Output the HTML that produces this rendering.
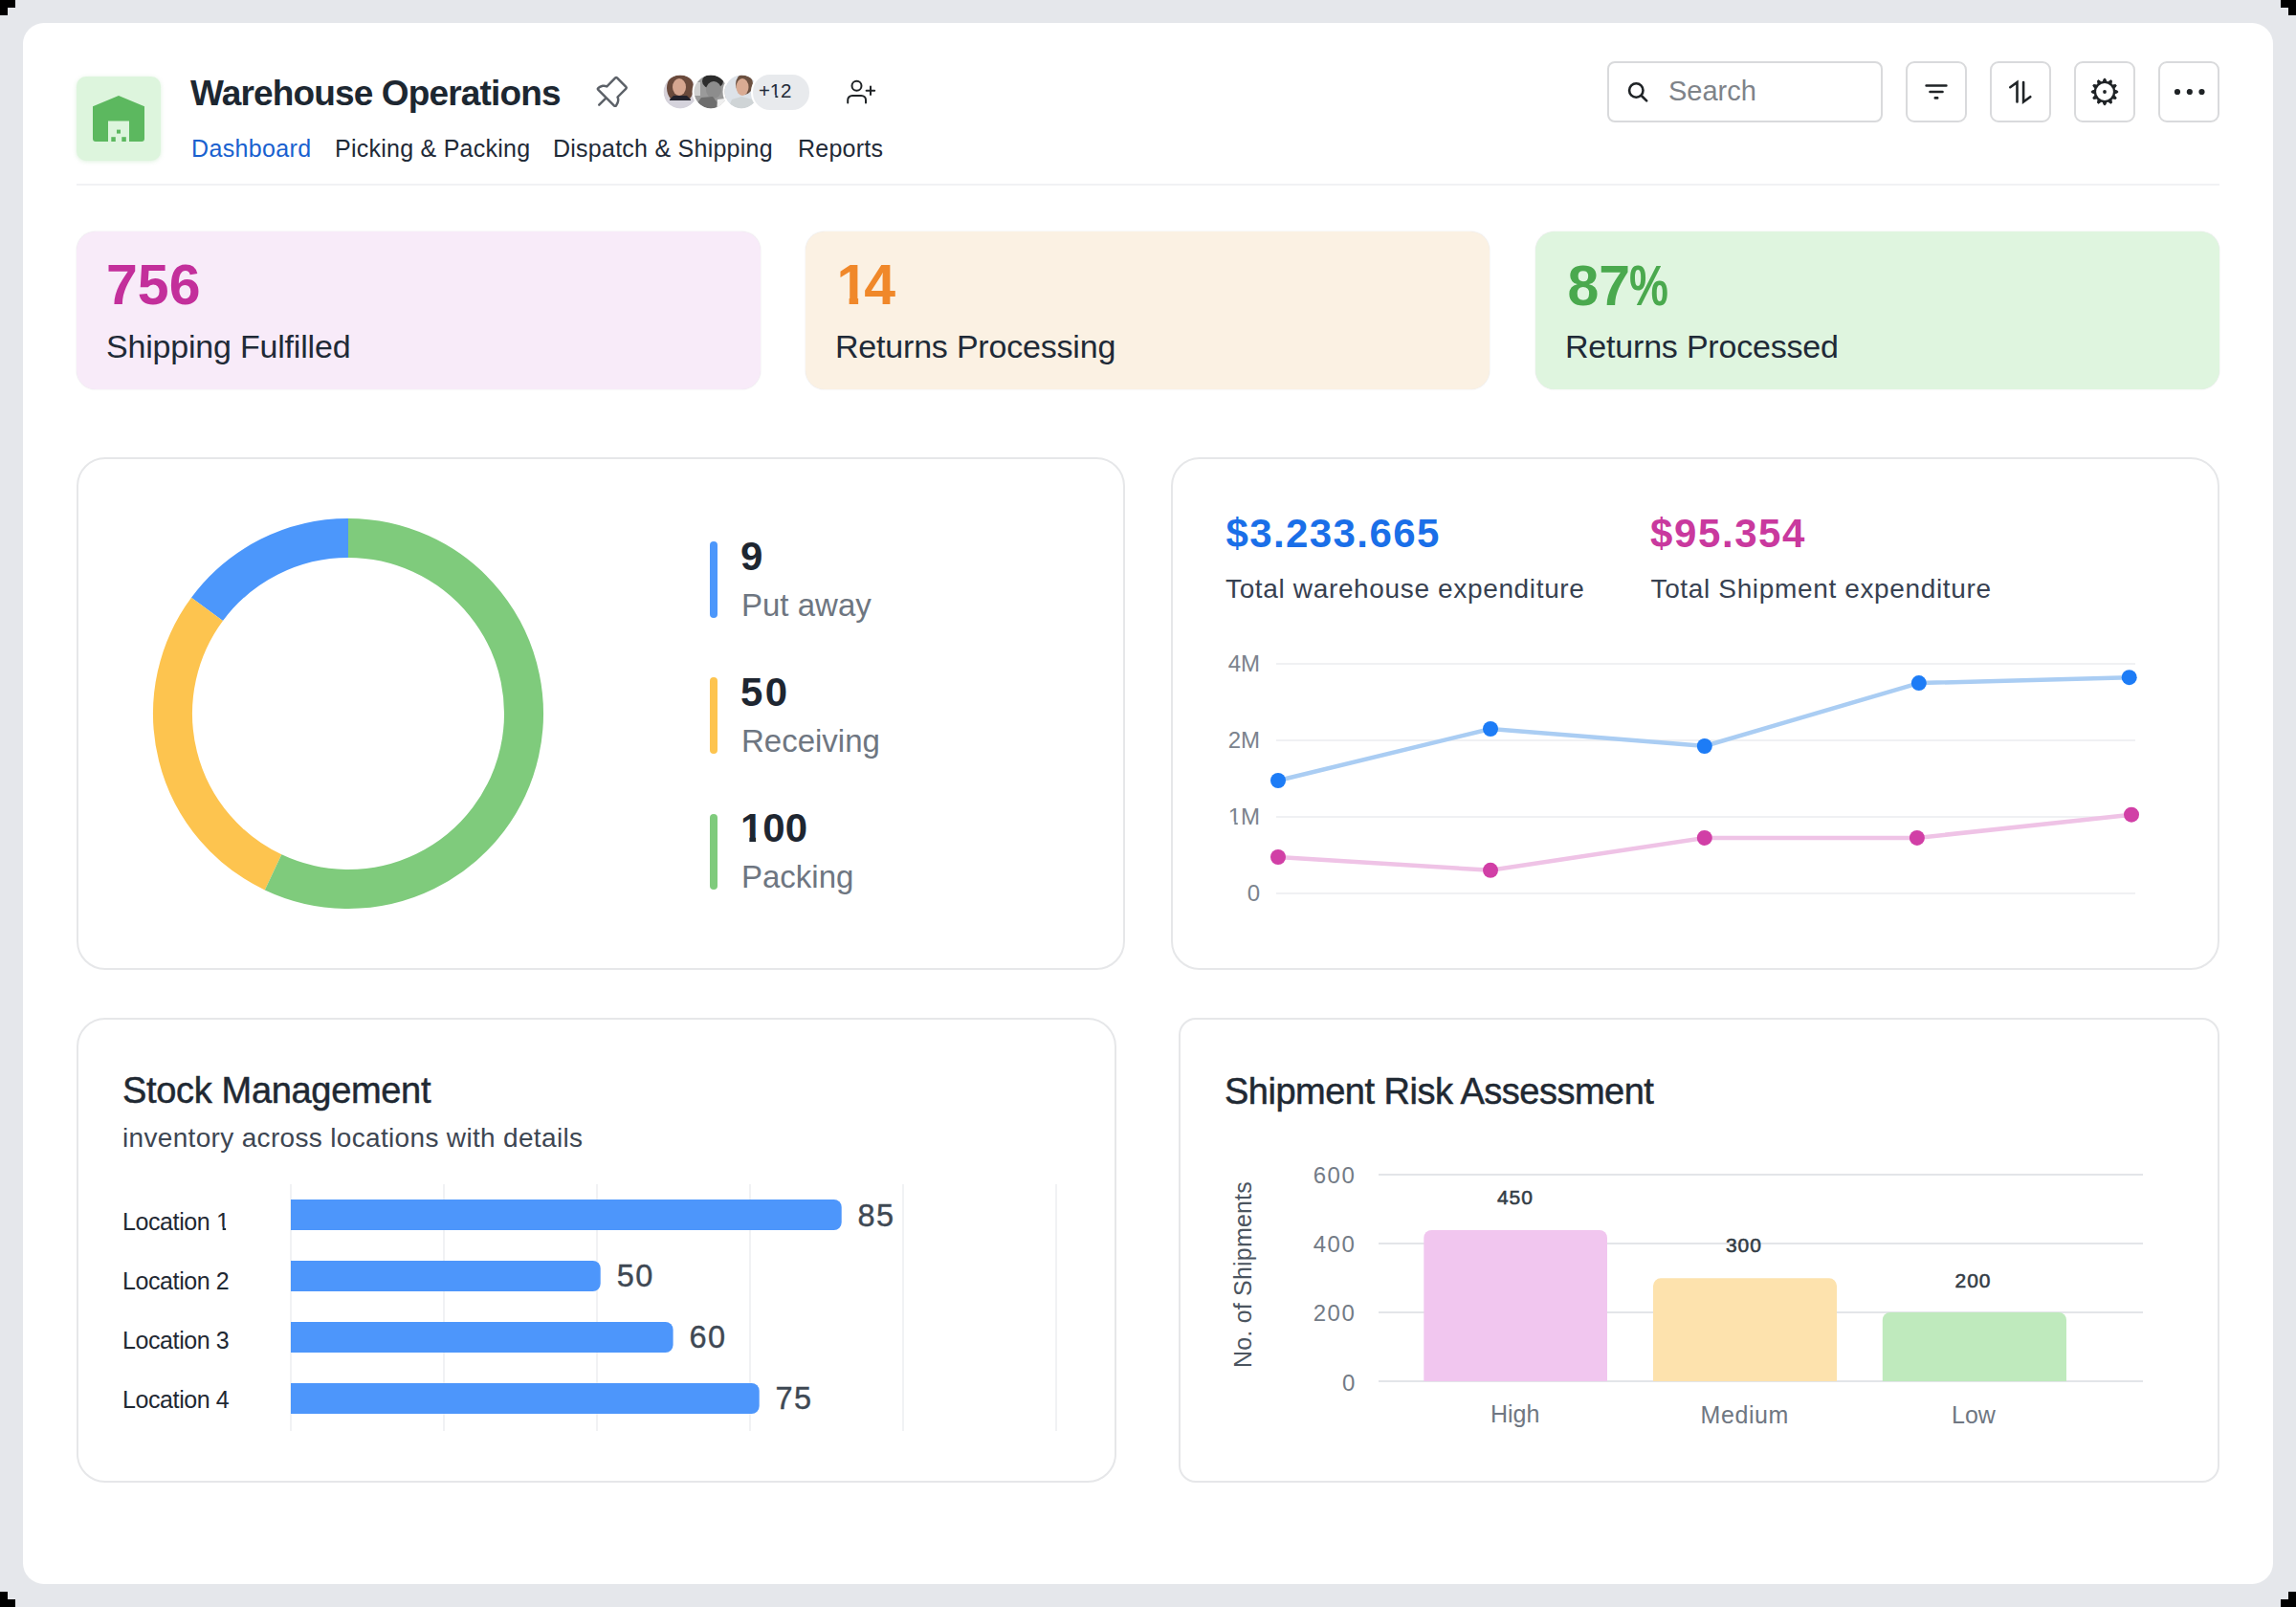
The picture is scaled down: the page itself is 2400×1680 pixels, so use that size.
<!DOCTYPE html>
<html>
<head>
<meta charset="utf-8">
<style>
*{box-sizing:border-box;margin:0;padding:0}
html,body{width:2400px;height:1680px;overflow:hidden}
body{background:#e5e7eb;font-family:"Liberation Sans",sans-serif;color:#1f2937;position:relative}
.abs{position:absolute}
.corner{position:absolute;background:#000}
#page{position:absolute;left:24px;top:24px;width:2352px;height:1632px;background:#fff;border-radius:22px}
.t{position:absolute;white-space:nowrap;line-height:1}
.kpi{position:absolute;top:242px;height:165px;width:715px;border-radius:20px;box-shadow:0 0 1.5px rgba(60,60,80,0.18)}
.card{position:absolute;background:#fff;border:2px solid #e6e7e9;border-radius:30px}
.btn{position:absolute;top:64px;width:64px;height:64px;border:2px solid #d9dadc;border-radius:9px;background:#fff}
.ob{display:inline-block;clip-path:polygon(0 0,100% 0,100% 70%,69% 70%,69% 100%,40% 100%,40% 70%,0 70%)}
.or{display:inline-block;clip-path:polygon(0 0,100% 0,100% 72%,76% 72%,76% 100%,50% 100%,50% 72%,0 72%)}
</style>
</head>
<body>
<!-- corner marks -->
<div class="corner" style="left:0;top:0;width:16px;height:8px"></div>
<div class="corner" style="left:0;top:8px;width:8px;height:8px"></div>
<div class="corner" style="right:0;top:0;width:16px;height:8px"></div>
<div class="corner" style="right:0;top:8px;width:8px;height:8px"></div>
<div class="corner" style="left:0;bottom:8px;width:8px;height:8px"></div>
<div class="corner" style="left:0;bottom:0;width:16px;height:8px"></div>
<div class="corner" style="right:0;bottom:8px;width:8px;height:8px"></div>
<div class="corner" style="right:0;bottom:0;width:16px;height:8px"></div>

<div id="page"></div>

<!-- HEADER -->
<div class="abs" style="left:80px;top:80px;width:88px;height:88px;border-radius:10px;background:#ddf5dd;box-shadow:0 1px 4px rgba(120,200,120,0.25)"></div>
<svg class="abs" style="left:0;top:0" width="2400" height="200" viewBox="0 0 2400 200">
  <!-- warehouse icon -->
  <path fill="#5cb85f" d="M124 100 L151 111.2 L151 145 Q151 148 148 148 L135 148 L135 126.5 L113 126.5 L113 148 L100 148 Q97 148 97 145 L97 111.2 Z"/>
  <rect x="122" y="135.6" width="4" height="4" fill="#5cb85f"/>
  <rect x="116.3" y="143.2" width="4.5" height="4.8" fill="#5cb85f"/>
  <rect x="127.3" y="143.2" width="4.5" height="4.8" fill="#5cb85f"/>
  <!-- pin -->
  <g transform="translate(618.8 77.4) scale(0.155)">
    <path fill="#5c6168" d="M235.33,81.37,174.63,20.67a16,16,0,0,0-22.63,0L98.37,74.49c-10.66-3.34-35-7.37-60.4,13.14a16,16,0,0,0-1.29,23.78L85,159.71,42.34,202.34a8,8,0,0,0,11.32,11.32L96.29,171l48.290,48.29A16,16,0,0,0,155.9,224c.38,0,.75,0,1.13,0a15.930,15.930,0,0,0,11.64-6.33c19.64-26.1,17.75-47.32,13.19-60L235.33,104A16,16,0,0,0,235.33,81.37ZM224,92.69h0l-57.27,57.46a8,8,0,0,0-1.49,9.220c9.46,18.93-1.8,38.59-9.34,48.62L48,100.08c12.08-9.74,23.640-12.31,32.48-12.31A40.13,40.13,0,0,1,96.81,91a8,8,0,0,0,9.25-1.51L163.32,32,224,92.68Z"/>
  </g>
  <!-- user plus -->
  <g fill="none" stroke="#1f2326" stroke-width="2" stroke-linecap="round">
    <circle cx="895.5" cy="89.8" r="5"/>
    <path d="M886.2 107.6 V104.6 A4.7 4.7 0 0 1 890.9 99.9 H900.3 A4.7 4.7 0 0 1 905 104.6 V107.6"/>
    <path d="M910 90.4 V98.9 M905.6 94.8 H914.2"/>
  </g>
</svg>
<div class="t" style="left:199px;top:78.6px;font-size:37px;font-weight:700;color:#1d2731;letter-spacing:-0.85px">Warehouse Operations</div>

<!-- avatars -->
<svg class="abs" style="left:690px;top:74px" width="110" height="44" viewBox="690 74 110 44">
  <defs>
    <clipPath id="c1"><circle cx="711" cy="96" r="17.5"/></clipPath>
    <clipPath id="c2"><circle cx="743" cy="96" r="17.5"/></clipPath>
    <clipPath id="c3"><circle cx="775" cy="96" r="17.5"/></clipPath>
  </defs>
  <g clip-path="url(#c1)">
    <rect x="690" y="74" width="45" height="44" fill="#d7d2d9"/>
    <ellipse cx="711" cy="92" rx="14" ry="16" fill="#6a4a3c"/>
    <ellipse cx="710" cy="91" rx="7" ry="9" fill="#d6a690"/>
    <path d="M700 104 L704 100 L718 100 L722 104 L722 106 L700 106 Z" fill="#23222c"/>
    <rect x="690" y="105" width="45" height="15" fill="#d5d3dc"/>
  </g>
  <circle cx="711" cy="96" r="18.5" fill="none" stroke="#fff" stroke-width="2"/>
  <g clip-path="url(#c2)">
    <rect x="722" y="74" width="45" height="44" fill="#9a9a9a"/>
    <rect x="722" y="86" width="10" height="14" fill="#d0d0d0"/>
    <ellipse cx="745" cy="85" rx="11" ry="8" fill="#2c2c2c"/>
    <ellipse cx="746" cy="94" rx="8" ry="9" fill="#8d8d8d"/>
    <path d="M726 112 L733 102 L745 101 L752 110 L752 118 L726 118 Z" fill="#6e6e6e"/>
    <path d="M750 104 L764 102 L764 118 L749 118 Z" fill="#efefef"/>
  </g>
  <circle cx="743" cy="96" r="18.5" fill="none" stroke="#fff" stroke-width="2"/>
  <g clip-path="url(#c3)">
    <rect x="754" y="74" width="45" height="44" fill="#dde2e8"/>
    <ellipse cx="778" cy="88" rx="9" ry="11" fill="#6b5040"/>
    <ellipse cx="776" cy="91" rx="6.5" ry="9" fill="#d9ab93"/>
    <path d="M760 116 L765 104 L775 101 L787 104 L792 116 Z" fill="#cfd4d6"/>
  </g>
  <circle cx="775" cy="96" r="18.5" fill="none" stroke="#fff" stroke-width="2"/>
</svg>
<div class="abs" style="left:785px;top:76px;width:63px;height:40.5px;border-radius:20px;background:#e8eaed;border:2px solid #fff"></div>
<div class="t" style="left:793px;top:84.5px;font-size:20.5px;color:#1f2a37;letter-spacing:-0.2px">+<span class="or">1</span>2</div>

<!-- nav -->
<div class="t" style="left:200px;top:142.5px;font-size:25px;color:#1961cf;letter-spacing:0.35px">Dashboard</div>
<div class="t" style="left:350px;top:142.5px;font-size:25px;letter-spacing:0.25px;color:#1f2a37">Picking &amp; Packing</div>
<div class="t" style="left:578px;top:142.5px;font-size:25px;letter-spacing:0.25px;color:#1f2a37">Dispatch &amp; Shipping</div>
<div class="t" style="left:834px;top:142.5px;font-size:25px;letter-spacing:0.25px;color:#1f2a37">Reports</div>

<!-- search + buttons -->
<div class="abs" style="left:1680px;top:64px;width:288px;height:64px;border:2px solid #d9dadc;border-radius:8px;background:#fff"></div>
<div class="t" style="left:1744px;top:81.3px;font-size:29px;color:#7e8389">Search</div>
<div class="btn" style="left:1992px"></div>
<div class="btn" style="left:2080px"></div>
<div class="btn" style="left:2168px"></div>
<div class="btn" style="left:2256px"></div>
<svg class="abs" style="left:0;top:0" width="2400" height="200" viewBox="0 0 2400 200">
  <g fill="none" stroke="#1f2326" stroke-width="2.6" stroke-linecap="round">
    <circle cx="1710.3" cy="94.5" r="7.2"/>
    <path d="M1715.8 100 L1721.2 105.4"/>
    <path d="M2013.6 89.5 H2034.4 M2017.5 96 H2030.5 M2022.8 102.4 H2025.2"/>
    <path d="M2108.5 106.5 V86 L2101.3 91.2 M2115.1 86 V106.5 L2122.3 101.2"/>
  </g>
  <g fill="#1f2326">
    <circle cx="2276" cy="96" r="3.1"/><circle cx="2288.8" cy="96" r="3.1"/><circle cx="2301.5" cy="96" r="3.1"/>
    <circle cx="2200" cy="96" r="1.9"/>
  </g>
  <g fill="none" stroke="#1f2326" stroke-width="2.3"><circle cx="2200" cy="96" r="10.05"/></g>
  <path fill="#1f2326" stroke="#1f2326" stroke-width="1" stroke-linejoin="round" d="M2201.90 85.40 L2200.70 82.30 L2199.30 82.30 L2198.10 85.40 Z M2206.95 87.77 L2207.46 84.49 L2206.24 83.79 L2203.65 85.87 Z M2210.13 92.35 L2212.21 89.76 L2211.51 88.54 L2208.23 89.05 Z M2210.60 97.90 L2213.70 96.70 L2213.70 95.30 L2210.60 94.10 Z M2208.23 102.95 L2211.51 103.46 L2212.21 102.24 L2210.13 99.65 Z M2203.65 106.13 L2206.24 108.21 L2207.46 107.51 L2206.95 104.23 Z M2198.10 106.60 L2199.30 109.70 L2200.70 109.70 L2201.90 106.60 Z M2193.05 104.23 L2192.54 107.51 L2193.76 108.21 L2196.35 106.13 Z M2189.87 99.65 L2187.79 102.24 L2188.49 103.46 L2191.77 102.95 Z M2189.40 94.10 L2186.30 95.30 L2186.30 96.70 L2189.40 97.90 Z M2191.77 89.05 L2188.49 88.54 L2187.79 89.76 L2189.87 92.35 Z M2196.35 85.87 L2193.76 83.79 L2192.54 84.49 L2193.05 87.77 Z"/>
</svg>

<!-- divider -->
<div class="abs" style="left:80px;top:192px;width:2240px;height:2px;background:#f1f2f4"></div>

<!-- KPI -->
<div class="kpi" style="left:80px;background:#f8ebf9"></div>
<div class="kpi" style="left:842px;background:#fbf1e3"></div>
<div class="kpi" style="left:1605px;background:#dff5df"></div>
<div class="t" style="left:111px;top:269px;font-size:59px;font-weight:700;color:#c32f9b">756</div>
<div class="t" style="left:111px;top:344.5px;font-size:34px;color:#1f2a37;letter-spacing:-0.2px">Shipping Fulfilled</div>
<div class="t" style="left:874.5px;top:269px;font-size:59px;font-weight:700;color:#f0882a"><span class="ob" style="margin-right:-4px">1</span>4</div>
<div class="t" style="left:873px;top:344.5px;font-size:34px;color:#1f2a37;letter-spacing:-0.2px">Returns Processing</div>
<div class="t" style="left:1638.5px;top:269.5px;font-size:59px;font-weight:700;color:#4aa94e">87<span style="display:inline-block;transform:scaleX(0.78);transform-origin:0 0;margin-left:-1px">%</span></div>
<div class="t" style="left:1636px;top:344.5px;font-size:34px;color:#1f2a37;letter-spacing:-0.2px">Returns Processed</div>

<!-- MIDDLE CARDS -->
<div class="card" style="left:80px;top:478px;width:1096px;height:536px"></div>
<div class="card" style="left:1224px;top:478px;width:1096px;height:536px"></div>

<!-- donut -->
<svg class="abs" style="left:0;top:0" width="1200" height="1000" viewBox="0 0 1200 1000">
  <g fill="none" stroke-width="41">
    <path stroke="#4c97fb" d="M364.00 562.50 A183.5 183.5 0 0 0 216.49 636.85"/>
    <path stroke="#fdc44f" d="M216.49 636.85 A183.5 183.5 0 0 0 285.58 911.90"/>
    <path stroke="#7fcb7c" d="M285.58 911.90 A183.5 183.5 0 1 0 364.00 562.50"/>
  </g>
  <g stroke-width="8" stroke-linecap="round">
    <path stroke="#4c97fb" d="M746 570 V642"/>
    <path stroke="#fdc44f" d="M746 712 V784"/>
    <path stroke="#7fcb7c" d="M746 855 V926"/>
  </g>
</svg>
<div class="t" style="left:774px;top:560.5px;font-size:42px;font-weight:700;color:#1e2631">9</div>
<div class="t" style="left:775px;top:616px;font-size:33px;color:#6e7681">Put away</div>
<div class="t" style="left:774px;top:702.5px;font-size:42px;font-weight:700;color:#1e2631;letter-spacing:2.5px">50</div>
<div class="t" style="left:775px;top:758px;font-size:33px;color:#6e7681">Receiving</div>
<div class="t" style="left:774px;top:844.5px;font-size:42px;font-weight:700;color:#1e2631"><span class="ob">1</span>00</div>
<div class="t" style="left:775px;top:900px;font-size:33px;color:#6e7681">Packing</div>

<!-- line chart -->
<div class="t" style="left:1281.5px;top:536.5px;font-size:42px;font-weight:700;color:#1a6fe8;letter-spacing:1.4px">$3.233.665</div>
<div class="t" style="left:1725px;top:536.5px;font-size:42px;font-weight:700;color:#c9399e;letter-spacing:1.6px">$95.354</div>
<div class="t" style="left:1281px;top:602px;font-size:28px;color:#374151;letter-spacing:0.65px">Total warehouse expenditure</div>
<div class="t" style="left:1725.5px;top:602px;font-size:28px;color:#374151;letter-spacing:0.65px">Total Shipment expenditure</div>
<div class="t" style="right:1083px;top:681.5px;font-size:24px;color:#7b838d">4M</div>
<div class="t" style="right:1083px;top:761.5px;font-size:24px;color:#7b838d">2M</div>
<div class="t" style="right:1083px;top:841.5px;font-size:24px;color:#7b838d"><span class="or">1</span>M</div>
<div class="t" style="right:1083px;top:921.5px;font-size:24px;color:#7b838d">0</div>
<svg class="abs" style="left:1200px;top:650px" width="1100" height="320" viewBox="1200 650 1100 320">
  <g stroke="#f0f1f3" stroke-width="2">
    <path d="M1334 694 H2232 M1334 774 H2232 M1334 854 H2232 M1334 934 H2232"/>
  </g>
  <polyline fill="none" stroke="#aacdf3" stroke-width="4.5" stroke-linejoin="round" points="1336,816 1558,762 1781.8,780 2005.8,714.1 2225.7,708.2"/>
  <polyline fill="none" stroke="#efc3e6" stroke-width="4.5" stroke-linejoin="round" points="1336,896 1558,909.8 1781.8,875.9 2003.9,875.9 2228,851.7"/>
  <g fill="#1d7cf6">
    <circle cx="1336" cy="816" r="8"/><circle cx="1558" cy="762" r="8"/><circle cx="1781.8" cy="780" r="8"/><circle cx="2005.8" cy="714.1" r="8"/><circle cx="2225.7" cy="708.2" r="8"/>
  </g>
  <g fill="#d13fa6">
    <circle cx="1336" cy="896" r="8"/><circle cx="1558" cy="909.8" r="8"/><circle cx="1781.8" cy="875.9" r="8"/><circle cx="2003.9" cy="875.9" r="8"/><circle cx="2228" cy="851.7" r="8"/>
  </g>
</svg>

<!-- BOTTOM CARDS -->
<div class="card" style="left:80px;top:1064px;width:1087px;height:486px"></div>
<div class="card" style="left:1232px;top:1064px;width:1088px;height:486px;border-radius:18px"></div>

<!-- stock management -->
<div class="t" style="left:128px;top:1120.5px;font-size:38px;color:#1f2933;-webkit-text-stroke:0.5px #1f2933;letter-spacing:-0.33px">Stock Management</div>
<div class="t" style="left:128px;top:1176px;font-size:28px;color:#3d4652;letter-spacing:0.33px">inventory across locations with details</div>
<svg class="abs" style="left:0;top:1200px" width="1200" height="320" viewBox="0 1200 1200 320">
  <g stroke="#f1f2f4" stroke-width="2">
    <path d="M304 1238 V1496 M464 1238 V1496 M624 1238 V1496 M784 1238 V1496 M944 1238 V1496 M1104 1238 V1496"/>
  </g>
  <g fill="#4d96fb">
    <path d="M304 1254 H871.7 A8 8 0 0 1 879.7 1262 V1278 A8 8 0 0 1 871.7 1286 H304 Z"/>
    <path d="M304 1318 H619.7 A8 8 0 0 1 627.7 1326 V1342 A8 8 0 0 1 619.7 1350 H304 Z"/>
    <path d="M304 1382 H695.6 A8 8 0 0 1 703.6 1390 V1406 A8 8 0 0 1 695.6 1414 H304 Z"/>
    <path d="M304 1446 H785.7 A8 8 0 0 1 793.7 1454 V1470 A8 8 0 0 1 785.7 1478 H304 Z"/>
  </g>
</svg>
<div class="t" style="left:128px;top:1264.5px;font-size:25px;color:#1f2933;letter-spacing:-0.4px">Location <span class="or">1</span></div>
<div class="t" style="left:128px;top:1326.8px;font-size:25px;color:#1f2933;letter-spacing:-0.4px">Location 2</div>
<div class="t" style="left:128px;top:1389px;font-size:25px;color:#1f2933;letter-spacing:-0.4px">Location 3</div>
<div class="t" style="left:128px;top:1450.8px;font-size:25px;color:#1f2933;letter-spacing:-0.4px">Location 4</div>
<div class="t" style="left:896.5px;top:1254.5px;font-size:32.5px;color:#3e4853;-webkit-text-stroke:0.4px #3e4853;letter-spacing:1.5px">85</div>
<div class="t" style="left:644.8px;top:1318.3px;font-size:32.5px;color:#3e4853;-webkit-text-stroke:0.4px #3e4853;letter-spacing:1.5px">50</div>
<div class="t" style="left:720.5px;top:1382.2px;font-size:32.5px;color:#3e4853;-webkit-text-stroke:0.4px #3e4853;letter-spacing:1.5px">60</div>
<div class="t" style="left:810.5px;top:1446.1px;font-size:32.5px;color:#3e4853;-webkit-text-stroke:0.4px #3e4853;letter-spacing:1.5px">75</div>

<!-- shipment risk -->
<div class="t" style="left:1280px;top:1121.5px;font-size:38px;color:#1f2933;-webkit-text-stroke:0.5px #1f2933;letter-spacing:-0.5px">Shipment Risk Assessment</div>
<div class="t" style="left:1287px;top:1430px;font-size:25px;color:#4b5560;letter-spacing:0.2px;transform:rotate(-90deg);transform-origin:0 0;">No. of Shipments</div>
<svg class="abs" style="left:1400px;top:1200px" width="900" height="260" viewBox="1400 1200 900 260">
  <g stroke="#e3e5e9" stroke-width="2">
    <path d="M1441 1228 H2240 M1441 1300 H2240 M1441 1372 H2240 M1441 1444 H2240"/>
  </g>
  <path fill="#f1c6ef" d="M1488.3 1444 V1294 A8 8 0 0 1 1496.3 1286 H1672 A8 8 0 0 1 1680 1294 V1444 Z"/>
  <path fill="#fde2ad" d="M1728 1444 V1344.3 A8 8 0 0 1 1736 1336.3 H1912 A8 8 0 0 1 1920 1344.3 V1444 Z"/>
  <path fill="#bfeabd" d="M1967.8 1444 V1380 A8 8 0 0 1 1975.8 1372 H2152 A8 8 0 0 1 2160 1380 V1444 Z"/>
</svg>
<div class="t" style="right:982.5px;top:1216.8px;font-size:24px;color:#737b86;letter-spacing:1.6px">600</div>
<div class="t" style="right:982.5px;top:1289.3px;font-size:24px;color:#737b86;letter-spacing:1.6px">400</div>
<div class="t" style="right:982.5px;top:1361.3px;font-size:24px;color:#737b86;letter-spacing:1.6px">200</div>
<div class="t" style="right:982.5px;top:1433.5px;font-size:24px;color:#737b86;letter-spacing:1.2px">0</div>
<div class="t" style="left:1565px;top:1241.1px;font-size:21px;font-weight:400;color:#333c45;-webkit-text-stroke:0.55px #333c45;letter-spacing:0.9px">450</div>
<div class="t" style="left:1804px;top:1290.9px;font-size:21px;font-weight:400;color:#333c45;-webkit-text-stroke:0.55px #333c45;letter-spacing:0.9px">300</div>
<div class="t" style="left:2043.6px;top:1327.5px;font-size:21px;font-weight:400;color:#333c45;-webkit-text-stroke:0.55px #333c45;letter-spacing:0.9px">200</div>
<div class="t" style="left:1558px;top:1466.3px;font-size:25px;color:#6f7782">High</div>
<div class="t" style="left:1777.5px;top:1466.8px;font-size:25px;color:#6f7782;letter-spacing:0.6px">Medium</div>
<div class="t" style="left:2040px;top:1466.8px;font-size:25px;color:#6f7782">Low</div>

</body>
</html>
